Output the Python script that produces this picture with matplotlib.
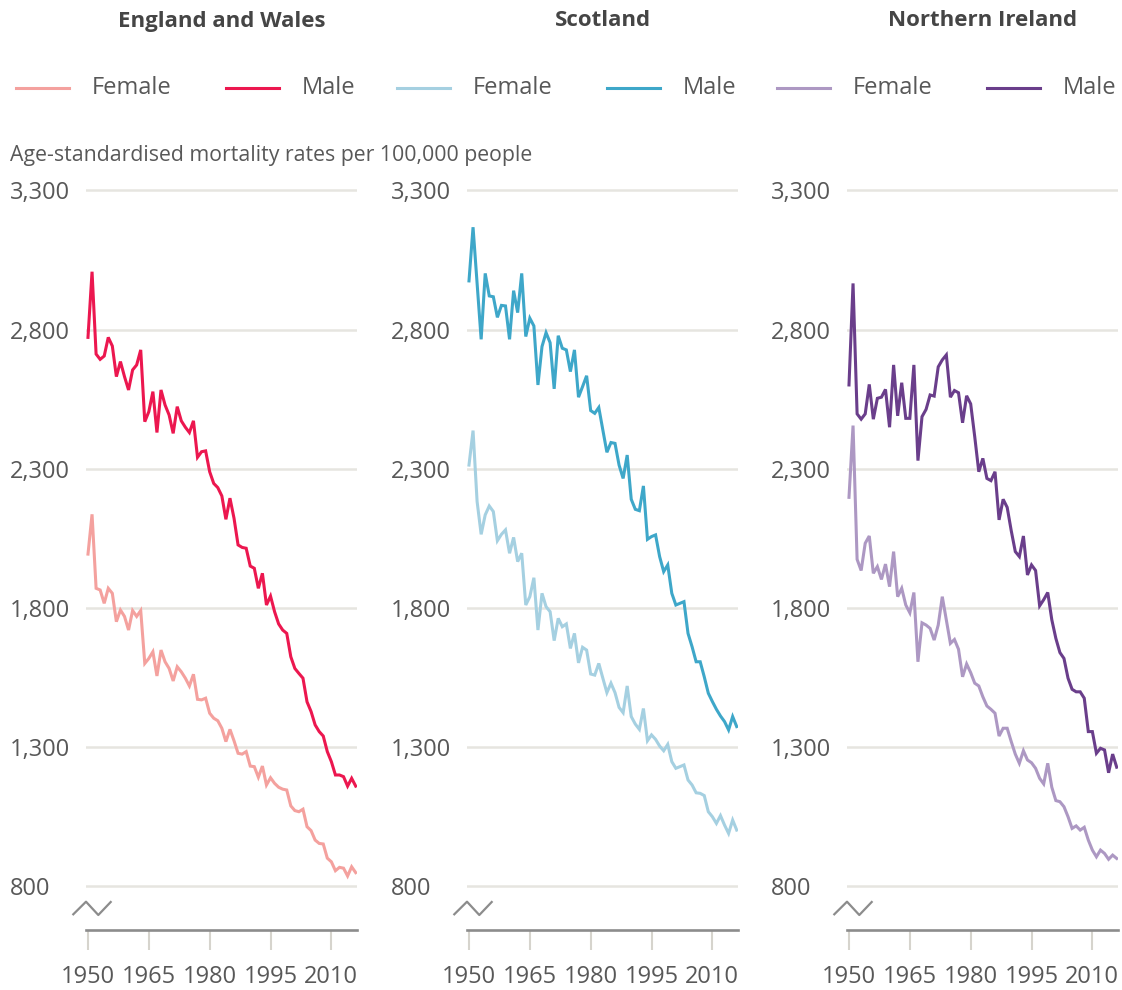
import matplotlib
matplotlib.use("Agg")
import matplotlib.pyplot as plt
from matplotlib.lines import Line2D
from matplotlib.ticker import FuncFormatter

# Age-standardised mortality rates per 100,000 people, 1950-2016
years = list(range(1950, 2017))

ew_female = [1993, 2136, 1870, 1864, 1816, 1870, 1852, 1750, 1792, 1769,
             1720, 1790, 1769, 1790, 1600, 1618, 1642, 1555, 1648, 1606,
             1582, 1537, 1588, 1570, 1547, 1519, 1561, 1471, 1469, 1475,
             1421, 1403, 1394, 1367, 1319, 1363, 1322, 1277, 1274, 1283,
             1231, 1229, 1191, 1231, 1163, 1189, 1169, 1155, 1148, 1145,
             1088, 1071, 1067, 1076, 1013, 999, 965, 953, 951, 900,
             887, 855, 867, 864, 836, 869, 848]
ew_male = [2772, 3008, 2712, 2693, 2705, 2772, 2741, 2631, 2685, 2631,
           2583, 2655, 2673, 2727, 2469, 2505, 2577, 2430, 2583, 2529,
           2493, 2427, 2523, 2472, 2449, 2430, 2472, 2341, 2361, 2364,
           2289, 2247, 2232, 2202, 2118, 2194, 2122, 2026, 2017, 2014,
           1950, 1942, 1870, 1924, 1810, 1842, 1786, 1742, 1720, 1708,
           1624, 1582, 1564, 1547, 1462, 1427, 1379, 1355, 1339, 1283,
           1247, 1199, 1199, 1193, 1159, 1187, 1159]

sc_female = [2313, 2437, 2182, 2064, 2134, 2166, 2146, 2041, 2064, 2080,
             1996, 2053, 1966, 1996, 1810, 1840, 1908, 1720, 1852, 1804,
             1786, 1682, 1762, 1732, 1742, 1654, 1708, 1602, 1658, 1648,
             1562, 1558, 1600, 1547, 1495, 1529, 1495, 1442, 1423, 1519,
             1409, 1382, 1363, 1438, 1322, 1343, 1327, 1303, 1286, 1309,
             1247, 1223, 1229, 1235, 1181, 1163, 1135, 1133, 1125, 1067,
             1049, 1025, 1053, 1019, 989, 1037, 1001]
sc_male = [2975, 3168, 2966, 2765, 3002, 2921, 2918, 2844, 2887, 2885,
           2765, 2940, 2861, 3002, 2775, 2841, 2813, 2601, 2739, 2789,
           2753, 2587, 2778, 2733, 2727, 2649, 2727, 2557, 2595, 2634,
           2509, 2499, 2520, 2439, 2359, 2394, 2391, 2313, 2265, 2349,
           2190, 2154, 2149, 2238, 2046, 2056, 2062, 1984, 1930, 1954,
           1852, 1810, 1816, 1822, 1708, 1660, 1606, 1606, 1552, 1493,
           1463, 1435, 1411, 1391, 1361, 1409, 1373]

ni_female = [2197, 2455, 1974, 1934, 2032, 2058, 1924, 1948, 1902, 1957,
             1876, 2002, 1840, 1870, 1810, 1782, 1855, 1606, 1746, 1738,
             1726, 1684, 1738, 1840, 1756, 1672, 1686, 1651, 1552, 1598,
             1567, 1529, 1519, 1480, 1447, 1435, 1421, 1339, 1367, 1367,
             1319, 1274, 1241, 1286, 1253, 1243, 1223, 1187, 1167, 1241,
             1155, 1107, 1103, 1085, 1049, 1007, 1016, 1001, 1011, 965,
             929, 905, 929, 917, 896, 911, 899]
ni_male = [2601, 2966, 2497, 2478, 2497, 2603, 2478, 2553, 2557, 2585,
           2449, 2673, 2490, 2609, 2481, 2481, 2673, 2329, 2487, 2513,
           2565, 2561, 2666, 2691, 2709, 2557, 2581, 2573, 2465, 2562,
           2533, 2415, 2289, 2337, 2265, 2257, 2289, 2116, 2190, 2161,
           2077, 2002, 1984, 2058, 1918, 1954, 1934, 1807, 1829, 1855,
           1757, 1690, 1639, 1618, 1547, 1507, 1498, 1498, 1475, 1355,
           1355, 1277, 1295, 1289, 1207, 1274, 1227]

countries = ["England and Wales", "Scotland", "Northern Ireland"]
female_series = [ew_female, sc_female, ni_female]
male_series = [ew_male, sc_male, ni_male]
female_colors = ["#f4a19e", "#a5d0e1", "#ad98c3"]
male_colors = ["#ec174f", "#3ea7c9", "#6a3e8b"]
series_labels = ["Female", "Male"]

y_ticks = [800, 1300, 1800, 2300, 2800, 3300]
x_ticks = [1950, 1965, 1980, 1995, 2010]
subtitle = "Age-standardised mortality rates per 100,000 people"

FONT = "Open Sans"
TEXT_COLOR = "#585858"
TITLE_COLOR = "#454545"
GRID_COLOR = "#e6e5e0"
AXIS_COLOR = "#8c8c8c"
TICK_COLOR = "#d6d4cd"
LABEL_SIZE = 17

W, H = 1122, 990
fig = plt.figure(figsize=(W / 100, H / 100), dpi=100)
fig.patch.set_facecolor("white")


def px_rect(left, top, right, bottom):
    return [left / W, 1 - bottom / H, (right - left) / W, (bottom - top) / H]


panel_lefts = [86, 467, 847]
panel_width = 271
ax_top, ax_bottom = 180, 930

for i, left in enumerate(panel_lefts):
    ax = fig.add_axes(px_rect(left, ax_top, left + panel_width, ax_bottom))
    ax.set_xlim(1949.51, 2016.32)
    ax.set_ylim(641.8, 3337.7)

    ax.plot(years, female_series[i], color=female_colors[i], lw=2.2,
            solid_joinstyle="miter", zorder=3)
    ax.plot(years, male_series[i], color=male_colors[i], lw=2.2,
            solid_joinstyle="miter", zorder=4)

    for v in y_ticks:
        ax.axhline(v, color=GRID_COLOR, lw=1.8, zorder=1)

    for s in ["top", "right", "left"]:
        ax.spines[s].set_visible(False)
    ax.spines["bottom"].set_color(AXIS_COLOR)
    ax.spines["bottom"].set_linewidth(1.9)

    ax.set_yticks(y_ticks)
    ax.yaxis.set_major_formatter(FuncFormatter(lambda v, p: f"{v:,.0f}"))
    ax.tick_params(axis="y", length=0, pad=54.7, labelsize=LABEL_SIZE,
                   labelcolor=TEXT_COLOR)
    for lbl in ax.get_yticklabels():
        lbl.set_horizontalalignment("left")
        lbl.set_fontfamily(FONT)

    ax.set_xticks(x_ticks)
    ax.tick_params(axis="x", direction="out", length=14.4, width=1.5,
                   color=TICK_COLOR, pad=10.5, labelsize=LABEL_SIZE,
                   labelcolor=TEXT_COLOR)
    for lbl in ax.get_xticklabels():
        lbl.set_fontfamily(FONT)

    # axis-break marker below the lowest gridline
    zx = [-12.7, 0.0, 12.3, 24.7]
    zy = [15.7, 28.3, 15.0, 28.0]
    ax.add_line(Line2D([x / panel_width for x in zx],
                       [y / (ax_bottom - ax_top) for y in zy],
                       transform=ax.transAxes, color=AXIS_COLOR, lw=1.6,
                       clip_on=False))

    # panel title
    cx = (left + panel_width / 2) / W
    fig.text(cx, 1 - 21 / H, countries[i], ha="center", va="center",
             fontsize=16, fontweight="bold", color=TITLE_COLOR, family=FONT)

    # legend row
    leg_y = 1 - 88 / H
    for j, (lab, col) in enumerate(zip(series_labels,
                                       [female_colors[i], male_colors[i]])):
        x0 = left - 70 + j * 210
        fig.add_artist(Line2D([x0 / W, (x0 + 53) / W], [leg_y, leg_y],
                              transform=fig.transFigure, color=col, lw=2.2))
        fig.text((x0 + 76) / W, leg_y, lab, ha="left", va="center",
                 fontsize=LABEL_SIZE, color=TEXT_COLOR, family=FONT)

fig.text(10 / W, 1 - 155 / H, subtitle, ha="left", va="center",
         fontsize=15.3, color=TEXT_COLOR, family=FONT)

fig.savefig("out.png", dpi=100, facecolor="white")
